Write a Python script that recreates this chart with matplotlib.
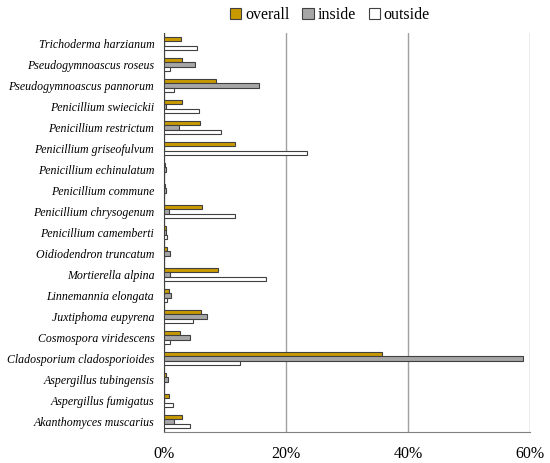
import numpy as np
import matplotlib
matplotlib.use('Agg')
import matplotlib.pyplot as plt
from matplotlib.ticker import FuncFormatter

# species, bottom to top as drawn
species = ['Akanthomyces muscarius', 'Aspergillus fumigatus', 'Aspergillus tubingensis',
           'Cladosporium cladosporioides', 'Cosmospora viridescens', 'Juxtiphoma eupyrena',
           'Linnemannia elongata', 'Mortierella alpina', 'Oidiodendron truncatum',
           'Penicillium camemberti', 'Penicillium chrysogenum', 'Penicillium commune',
           'Penicillium echinulatum', 'Penicillium griseofulvum', 'Penicillium restrictum',
           'Penicillium swiecickii', 'Pseudogymnoascus pannorum', 'Pseudogymnoascus roseus',
           'Trichoderma harzianum']

# percentages
overall = [3.0, 0.8, 0.3, 35.7, 2.65, 6.0, 0.9, 8.9, 0.5, 0.4, 6.25, 0.15, 0.15,
           11.7, 5.9, 3.0, 8.5, 3.0, 2.75]
inside = [1.7, 0.0, 0.6, 58.9, 4.2, 7.1, 1.15, 1.05, 0.95, 0.3, 0.8, 0.25, 0.25,
          0.0, 2.4, 0.33, 15.5, 5.1, 0.0]
outside = [4.2, 1.55, 0.0, 12.5, 1.05, 4.7, 0.5, 16.7, 0.0, 0.5, 11.7, 0.0, 0.0,
           23.5, 9.4, 5.8, 1.6, 1.05, 5.4]

plt.rcParams['font.family'] = ['Liberation Serif', 'DejaVu Serif']

fig = plt.figure(figsize=(5.5, 4.63), dpi=100)
ax = fig.add_axes([164/550, 1 - 432/463, 366/550, 399/463])

y = np.arange(len(species))
h = 0.22
edge = '#404040'
ax.barh(y + h, overall, height=h, color='#C99A00', edgecolor=edge, linewidth=0.8, label='overall', zorder=3)
ax.barh(y, inside, height=h, color='#A6A6A6', edgecolor=edge, linewidth=0.8, label='inside', zorder=3)
ax.barh(y - h, outside, height=h, color='white', edgecolor=edge, linewidth=0.8, label='outside', zorder=3)

ax.set_xlim(0, 60)
ax.set_ylim(-0.5, len(species) - 0.5)
ax.set_xticks([0, 20, 40, 60])
ax.xaxis.set_major_formatter(FuncFormatter(lambda v, p: '%d%%' % v))
ax.set_yticks(y)
ax.set_yticklabels(species, fontstyle='italic', fontsize=8.6)
ax.tick_params(axis='x', labelsize=11.5, length=0, pad=10)
ax.tick_params(axis='y', length=0, pad=7)

ax.grid(axis='x', color='#A0A0A0', linewidth=1.0, zorder=0)
for s in ['top', 'right']:
    ax.spines[s].set_visible(False)
ax.spines['left'].set_color('#404040')
ax.spines['bottom'].set_color('#808080')

fig.legend(loc='upper center', bbox_to_anchor=(0.6, 1.015), ncol=3, frameon=False,
           fontsize=11.5, handlelength=0.7, handleheight=0.7, handletextpad=0.25,
           columnspacing=0.8)

fig.savefig('out.png', dpi=100)
